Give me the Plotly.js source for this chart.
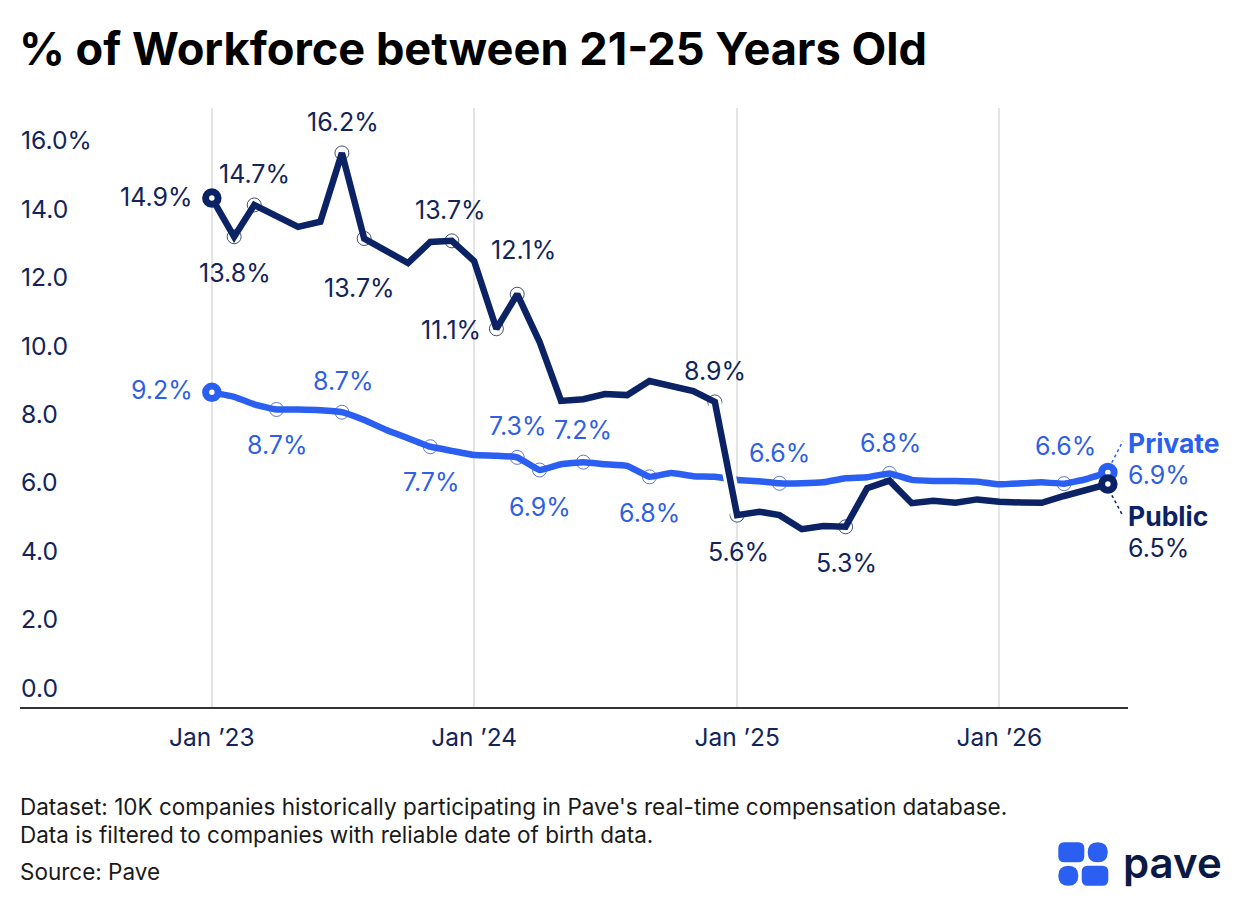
<!DOCTYPE html>
<html>
<head>
<meta charset="utf-8">
<script src="https://cdn.plot.ly/plotly-3.0.1.min.js"></script>
<style>html,body{margin:0;padding:0;background:#fff}#chart{width:1240px;height:906px}</style>
</head>
<body>
<div id="chart"></div>
<script>
const months = ["2023-01-01","2023-02-01","2023-03-01","2023-04-01","2023-05-01","2023-06-01","2023-07-01","2023-08-01","2023-09-01","2023-10-01","2023-11-01","2023-12-01",
"2024-01-01","2024-02-01","2024-03-01","2024-04-01","2024-05-01","2024-06-01","2024-07-01","2024-08-01","2024-09-01","2024-10-01","2024-11-01","2024-12-01",
"2025-01-01","2025-02-01","2025-03-01","2025-04-01","2025-05-01","2025-06-01","2025-07-01","2025-08-01","2025-09-01","2025-10-01","2025-11-01","2025-12-01",
"2026-01-01","2026-02-01","2026-03-01","2026-04-01","2026-05-01","2026-06-01"];
const publicVals = [14.88,13.75,14.68,14.35,14.04,14.19,16.2,13.7,13.36,12.98,13.6,13.63,13.04,11.06,12.07,10.68,8.95,9.0,9.15,9.12,9.53,9.37,9.24,8.92,5.61,5.71,5.61,5.2,5.29,5.27,6.4,6.62,5.96,6.03,5.97,6.07,6.0,5.98,5.97,6.17,6.32,6.52];
const privateVals = [9.2,9.07,8.85,8.7,8.7,8.68,8.62,8.39,8.1,7.86,7.61,7.49,7.37,7.35,7.3,6.93,7.1,7.16,7.1,7.05,6.73,6.84,6.75,6.73,6.64,6.6,6.54,6.54,6.57,6.69,6.72,6.83,6.64,6.61,6.61,6.59,6.51,6.54,6.57,6.53,6.66,6.86];
const yTickVals = [0,2,4,6,8,10,12,14,16];
const yTickText = ["0.0","2.0","4.0","6.0","8.0","10.0","12.0","14.0","16.0%"];
const xTickVals = ["2023-01-01","2024-01-01","2025-01-01","2026-01-01"];
const xTickText = ["Jan ’23","Jan ’24","Jan ’25","Jan ’26"];
// point index, label text, pixel offset
const publicLabels = [[1,"13.8%",0,36],[2,"14.7%",-1,-31],[6,"16.2%",0,-31],[7,"13.7%",-6,50],[11,"13.7%",-2,-31],[13,"11.1%",-46,1],[14,"12.1%",5,-44],[23,"8.9%",-1,-31],[24,"5.6%",0,37],[29,"5.3%",0,36]];
const privateLabels = [[3,"8.7%",-1,36],[6,"8.7%",0,-31],[10,"7.7%",0,35],[14,"7.3%",0,-31],[15,"6.9%",-1,37],[17,"7.2%",-1,-32],[20,"6.8%",-1,36],[26,"6.6%",-1,-30],[31,"6.8%",0,-30],[39,"6.6%",0,-38]];
const publicFirst = "14.9%", privateFirst = "9.2%", publicLast = "6.5%", privateLast = "6.9%";

const NAVY = "#0b2265", BLUE = "#2a5ff2", NAVYTXT = "#12245a", BLUETXT = "#2f5fe6";
const FONT = "Inter, 'Liberation Sans', sans-serif";
const pick = (arr, list) => list.map(l => arr[l[0]]);
const W = 1240, H = 906, L = 20, R = 1128, T = 108, B = 707;
const px = v => (v - L) / (R - L), py = v => (B - v) / (B - T);

const traces = [
  {x: pick(months, privateLabels), y: pick(privateVals, privateLabels), mode: "markers", showlegend:false, hoverinfo:"skip",
   marker:{size:14, color:"#ffffff", line:{color:"#3a55b8", width:0.8}}},
  {x: pick(months, publicLabels), y: pick(publicVals, publicLabels), mode: "markers", showlegend:false, hoverinfo:"skip",
   marker:{size:14, color:"#ffffff", line:{color:NAVYTXT, width:0.8}}},
  {x: months, y: privateVals, mode:"lines", name:"Private", showlegend:false, line:{color:BLUE, width:6.5, shape:"spline", smoothing:0.35}},
  {x: months.slice(23,25), y: publicVals.slice(23,25), mode:"lines", showlegend:false, hoverinfo:"skip", line:{color:"#ffffff", width:13}},
  {x: months, y: publicVals, mode:"lines", name:"Public", showlegend:false, line:{color:NAVY, width:6.5}},
  {x:[months[41]], y:[privateVals[41]], mode:"markers", showlegend:false, hoverinfo:"skip", marker:{size:12.5, color:"#fff", line:{color:BLUE, width:7}}},
  {x:[months[41]], y:[publicVals[41]], mode:"markers", showlegend:false, hoverinfo:"skip", marker:{size:12.5, color:"#fff", line:{color:NAVY, width:7}}},
  {x:[months[0]], y:[privateVals[0]], mode:"markers", showlegend:false, hoverinfo:"skip", marker:{size:12.5, color:"#fff", line:{color:BLUE, width:7}}},
  {x:[months[0]], y:[publicVals[0]], mode:"markers", showlegend:false, hoverinfo:"skip", marker:{size:12.5, color:"#fff", line:{color:NAVY, width:7}}}
];

const note = (x, y, text, size, color, anchor, weight) => ({xref:"paper", yref:"paper", x:px(x), y:py(y), text, showarrow:false,
  xanchor:anchor||"left", yanchor:"middle", font:{family:FONT, size, color, weight:weight||400}});
const dataNote = (xv, yv, text, dx, dy, color) => ({x:xv, y:yv, xref:"x", yref:"y", text, showarrow:false, xshift:dx+1, yshift:-dy,
  xanchor:"center", yanchor:"middle", font:{family:FONT, size:25, color}});

const annotations = [
  ...publicLabels.map(l => dataNote(months[l[0]], publicVals[l[0]], l[1], l[2], l[3], NAVYTXT)),
  ...privateLabels.map(l => dataNote(months[l[0]], privateVals[l[0]], l[1], l[2], l[3], BLUETXT)),
  dataNote(months[0], publicVals[0], publicFirst, -56, -1, NAVYTXT),
  dataNote(months[0], privateVals[0], privateFirst, -51, -2, BLUETXT),
  note(1126, 443, "Private", 26.5, BLUE, "left", 700),
  note(1126, 475, privateLast, 25, BLUETXT),
  note(1126, 516, "Public", 26.5, NAVY, "left", 700),
  note(1126, 548, publicLast, 25, NAVYTXT),
  note(17, 49, "% of Workforce between 21-25 Years Old", 45.2, "#000000", "left", 700),
  note(18, 806, "Dataset: 10K companies historically participating in Pave's real-time compensation database.", 22.5, "#1a1a1a"),
  note(18, 834, "Data is filtered to companies with reliable date of birth data.", 22.5, "#1a1a1a"),
  note(18, 871, "Source: Pave", 22.5, "#1a1a1a"),
  note(1121, 862, "pave", 42, "#0b1a45", "left", 600)
];

const roundRect = (x0,y0,x1,y1,r) => {
  const X = v => px(v), Y = v => py(v);
  return `M${X(x0+r)},${Y(y0)} L${X(x1-r)},${Y(y0)} Q${X(x1)},${Y(y0)} ${X(x1)},${Y(y0+r)} L${X(x1)},${Y(y1-r)} Q${X(x1)},${Y(y1)} ${X(x1-r)},${Y(y1)} L${X(x0+r)},${Y(y1)} Q${X(x0)},${Y(y1)} ${X(x0)},${Y(y1-r)} L${X(x0)},${Y(y0+r)} Q${X(x0)},${Y(y0)} ${X(x0+r)},${Y(y0)} Z`;
};
const LOGO = "#2a5ff2";
const shapes = [
  {type:"path", xref:"paper", yref:"paper", path:roundRect(1058.3,842.3,1084.3,862.3,6), fillcolor:LOGO, line:{width:0}},
  {type:"path", xref:"paper", yref:"paper", path:roundRect(1087.7,842.3,1107.7,862.3,10), fillcolor:LOGO, line:{width:0}},
  {type:"path", xref:"paper", yref:"paper", path:roundRect(1058.3,865.7,1078.3,885.7,10), fillcolor:LOGO, line:{width:0}},
  {type:"path", xref:"paper", yref:"paper", path:roundRect(1081.7,865.7,1108.3,885.7,6), fillcolor:LOGO, line:{width:0}},
  {type:"line", xref:"paper", yref:"paper", x0:px(1109), y0:py(468), x1:px(1123), y1:py(441), line:{color:BLUE, width:1.5, dash:"dot"}},
  {type:"line", xref:"paper", yref:"paper", x0:px(1109), y0:py(490), x1:px(1123), y1:py(516), line:{color:NAVY, width:1.5, dash:"dot"}}
];

const layout = {
  width:W, height:H, paper_bgcolor:"#fff", plot_bgcolor:"#fff", showlegend:false,
  margin:{l:L, r:W-R, t:T, b:H-B, pad:0},
  font:{family:FONT},
  xaxis:{type:"date", range:["2022-04-09","2026-06-29"], tickmode:"array", tickvals:xTickVals, ticktext:xTickText,
    showgrid:true, gridcolor:"#e4e4e4", gridwidth:2, zeroline:false, showline:true, linecolor:"#333333", linewidth:1.5,
    ticks:"", tickfont:{family:FONT, size:24.5, color:NAVYTXT}, ticklabelstandoff:8},
  yaxis:{range:[0,17.515], tickmode:"array", tickvals:yTickVals, ticktext:yTickText, showgrid:false, zeroline:false, showline:false,
    ticks:"", ticklabelposition:"inside", ticklabeloverflow:"allow", ticklabelshift:-19, ticklabelstandoff:-2, tickfont:{family:FONT, size:24.7, color:NAVYTXT}},
  annotations, shapes
};
Plotly.newPlot("chart", traces, layout, {displayModeBar:false, staticPlot:true});
</script>
</body>
</html>
